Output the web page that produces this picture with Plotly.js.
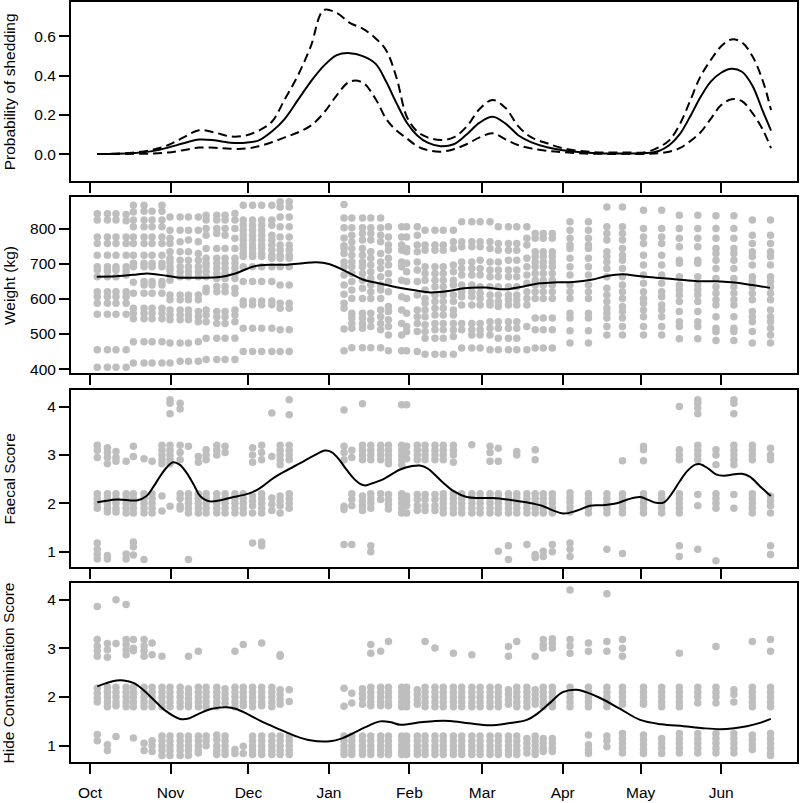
<!DOCTYPE html>
<html>
<head>
<meta charset="utf-8">
<script src="https://cdn.plot.ly/plotly-3.0.1.min.js"></script>
<style>
  body { margin: 0; background: #fff; }
  #chart { width: 800px; height: 803px; }
</style>
</head>
<body>
<div id="chart"></div>
<script>
// x values are days since 1 October
const monthDay = [0, 31, 61, 92, 123, 151, 182, 212, 243];
const monthLabel = ["Oct", "Nov", "Dec", "Jan", "Feb", "Mar", "Apr", "May", "Jun"];

// probability of shedding, fitted curve with confidence band
const shedDay = [2.7, 10, 17, 24, 30, 36, 42, 48, 54, 60, 65, 70, 75, 80, 85, 90, 95, 100, 105, 110, 114, 118, 122, 126, 130, 135, 140, 145, 150, 155, 160, 165, 170, 176, 182, 190, 198, 206, 214, 219, 223, 227, 231, 235, 239, 243, 247, 251, 255, 259, 262.2];
const shedMean = [0, 0.001, 0.005, 0.015, 0.033, 0.055, 0.074, 0.07, 0.058, 0.058, 0.07, 0.115, 0.18, 0.275, 0.37, 0.45, 0.505, 0.515, 0.5, 0.46, 0.37, 0.26, 0.16, 0.095, 0.058, 0.04, 0.05, 0.1, 0.16, 0.19, 0.155, 0.095, 0.06, 0.035, 0.02, 0.008, 0.003, 0.003, 0.005, 0.016, 0.045, 0.1, 0.19, 0.29, 0.37, 0.415, 0.435, 0.42, 0.35, 0.22, 0.12];
const shedUpper = [0, 0.002, 0.008, 0.022, 0.045, 0.085, 0.122, 0.11, 0.09, 0.095, 0.12, 0.165, 0.28, 0.4, 0.55, 0.735, 0.72, 0.67, 0.64, 0.59, 0.53, 0.39, 0.19, 0.115, 0.085, 0.072, 0.085, 0.14, 0.23, 0.276, 0.235, 0.14, 0.085, 0.055, 0.03, 0.014, 0.008, 0.008, 0.01, 0.035, 0.07, 0.15, 0.27, 0.395, 0.48, 0.55, 0.585, 0.57, 0.5, 0.375, 0.225];
const shedLower = [0, 0, 0.001, 0.003, 0.008, 0.02, 0.033, 0.032, 0.027, 0.028, 0.04, 0.06, 0.085, 0.11, 0.145, 0.21, 0.3, 0.37, 0.365, 0.28, 0.18, 0.12, 0.08, 0.04, 0.02, 0.012, 0.025, 0.05, 0.085, 0.106, 0.075, 0.045, 0.028, 0.017, 0.01, 0.003, 0.001, 0.001, 0.001, 0.004, 0.012, 0.03, 0.065, 0.11, 0.18, 0.25, 0.28, 0.27, 0.21, 0.125, 0.03];

// sampling days (one column of points per day)
const sampleDay = [2.8, 6.7, 10.0, 13.9, 16.7, 20.8, 23.9, 27.7, 30.8, 34.7, 37.9, 41.7, 44.7, 48.8, 52.0, 55.8, 59.0, 62.6, 66.1, 70.0, 73.2, 76.7,
  97.8, 100.8, 104.9, 108.1, 111.9, 114.9, 120.0, 121.9, 126.0, 129.0, 132.8, 136.0, 139.9, 143.1, 147.0, 150.2, 154.0, 157.2, 161.1, 164.3, 168.2, 171.4, 174.5, 178.0,
  184.8, 191.9, 199.0, 205.0, 213.1, 220.1, 226.9, 234.0, 241.0, 247.9, 255.0, 262.0];

const weightObs = [
  [842, 824, 776, 757, 724, 691, 682, 663, 620, 606, 587, 556, 455, 405],
  [842, 824, 776, 757, 724, 691, 679, 663, 620, 606, 587, 556, 455, 405],
  [842, 824, 776, 757, 724, 691, 682, 663, 620, 606, 587, 556, 455, 405],
  [840, 822, 776, 757, 724, 691, 679, 668, 620, 606, 587, 556, 455, 405],
  [866, 847, 824, 805, 776, 757, 724, 701, 691, 647, 616, 573, 559, 543, 478, 417],
  [866, 849, 824, 805, 776, 757, 724, 701, 691, 649, 639, 616, 573, 559, 543, 478, 417],
  [849, 824, 805, 776, 757, 724, 701, 691, 649, 639, 616, 573, 559, 543, 478, 417],
  [866, 849, 824, 805, 776, 757, 724, 701, 691, 649, 639, 616, 573, 559, 543, 478, 417],
  [833, 795, 772, 757, 734, 715, 705, 691, 682, 668, 653, 611, 597, 568, 554, 540, 474, 417],
  [833, 795, 762, 734, 710, 691, 677, 663, 611, 597, 568, 554, 540, 474, 422],
  [833, 795, 767, 734, 710, 691, 677, 663, 611, 597, 568, 554, 540, 474, 422],
  [833, 795, 762, 729, 710, 691, 677, 663, 611, 597, 564, 549, 535, 478, 422],
  [838, 824, 800, 781, 743, 715, 701, 691, 677, 663, 630, 620, 568, 554, 535, 488, 427],
  [838, 824, 800, 786, 743, 715, 701, 687, 672, 658, 635, 620, 564, 549, 530, 488, 427],
  [838, 824, 800, 781, 743, 715, 701, 687, 672, 658, 635, 620, 564, 549, 530, 488, 427],
  [843, 824, 800, 772, 743, 715, 701, 687, 672, 658, 630, 616, 568, 554, 535, 488, 427],
  [866, 824, 809, 795, 781, 767, 753, 743, 729, 720, 691, 649, 594, 583, 516, 450],
  [866, 824, 809, 795, 781, 767, 753, 743, 729, 720, 691, 649, 594, 583, 516, 450],
  [866, 824, 809, 795, 781, 767, 753, 743, 729, 720, 691, 649, 594, 583, 516, 450],
  [866, 824, 809, 781, 767, 753, 739, 724, 715, 691, 649, 594, 583, 516, 450],
  [876, 861, 833, 805, 776, 753, 739, 724, 715, 691, 639, 587, 573, 512, 450],
  [876, 861, 833, 805, 776, 753, 739, 724, 715, 691, 639, 587, 573, 512, 450],
  [868, 830, 802, 773, 751, 743, 729, 705, 691, 668, 639, 613, 587, 573, 514, 452],
  [830, 802, 781, 762, 743, 724, 705, 691, 672, 649, 625, 601, 559, 545, 530, 516, 461],
  [830, 802, 786, 767, 743, 724, 705, 691, 672, 653, 630, 601, 559, 545, 530, 516, 461],
  [830, 802, 786, 767, 734, 715, 696, 677, 658, 639, 620, 601, 559, 540, 521, 461],
  [830, 802, 781, 762, 729, 705, 686, 663, 639, 625, 601, 568, 549, 530, 512, 461],
  [805, 776, 753, 738, 715, 696, 672, 649, 620, 578, 564, 540, 521, 497, 452],
  [805, 776, 753, 738, 705, 691, 653, 606, 568, 530, 497, 452],
  [805, 776, 743, 734, 701, 677, 649, 601, 559, 521, 507, 452],
  [805, 781, 753, 734, 705, 682, 649, 611, 568, 549, 530, 507, 450],
  [795, 753, 738, 691, 672, 653, 625, 601, 587, 568, 549, 526, 507, 488, 442],
  [795, 753, 738, 691, 672, 653, 634, 611, 592, 573, 554, 530, 512, 488, 442],
  [795, 753, 738, 691, 672, 653, 634, 611, 592, 573, 554, 530, 512, 488, 442],
  [795, 762, 743, 696, 677, 653, 639, 611, 592, 568, 554, 530, 512, 493, 442],
  [819, 762, 748, 705, 686, 668, 639, 620, 606, 582, 530, 512, 460],
  [819, 762, 748, 705, 686, 668, 639, 620, 606, 582, 530, 512, 497, 460],
  [819, 762, 748, 710, 686, 668, 634, 616, 601, 582, 530, 512, 497, 460],
  [819, 762, 743, 705, 682, 663, 634, 611, 592, 582, 535, 516, 497, 455],
  [805, 757, 738, 705, 682, 663, 634, 611, 592, 578, 535, 516, 488, 455],
  [805, 757, 738, 710, 682, 663, 634, 611, 597, 582, 535, 516, 488, 455],
  [805, 757, 738, 710, 682, 663, 634, 611, 597, 582, 535, 516, 488, 455],
  [805, 772, 753, 715, 691, 668, 644, 620, 601, 582, 521, 455],
  [786, 772, 734, 720, 705, 691, 672, 653, 639, 620, 601, 545, 512, 460],
  [786, 772, 734, 720, 705, 691, 672, 653, 639, 620, 601, 545, 512, 460],
  [786, 772, 734, 720, 705, 691, 672, 653, 639, 620, 601, 545, 512, 460],
  [819, 795, 772, 753, 743, 715, 691, 668, 639, 620, 601, 559, 545, 509, 474],
  [819, 795, 772, 753, 743, 715, 691, 668, 639, 620, 601, 559, 545, 509, 474],
  [861, 805, 786, 767, 734, 720, 705, 686, 663, 630, 611, 592, 573, 559, 545, 521, 497],
  [861, 805, 786, 767, 743, 724, 710, 686, 663, 639, 620, 601, 578, 564, 545, 521, 497],
  [852, 800, 776, 757, 724, 696, 668, 644, 620, 601, 587, 568, 549, 521, 497],
  [852, 800, 776, 757, 724, 696, 668, 644, 620, 606, 582, 568, 549, 521, 497],
  [838, 800, 772, 748, 710, 701, 663, 639, 625, 611, 592, 564, 535, 521, 486],
  [838, 800, 772, 748, 710, 701, 663, 639, 625, 611, 592, 564, 535, 521, 486],
  [836, 800, 772, 743, 729, 710, 686, 658, 634, 616, 597, 582, 549, 516, 507, 481],
  [836, 800, 772, 743, 729, 710, 686, 658, 634, 616, 597, 582, 549, 516, 507, 481],
  [824, 781, 757, 734, 720, 696, 663, 649, 634, 616, 597, 564, 549, 535, 507, 474],
  [824, 781, 757, 734, 720, 696, 663, 649, 634, 616, 597, 568, 549, 535, 516, 497, 474]
];

const faecalObs = [
  [3.2, 3.1, 2.95, 2.2, 2.1, 2.0, 1.9, 1.18, 1.05, 0.95, 0.85],
  [3.15, 3.05, 2.95, 2.82, 2.2, 2.1, 2.0, 1.9, 1.82, 0.92, 0.85],
  [3.07, 2.95, 2.87, 2.2, 2.1, 2.0, 1.9, 1.82],
  [2.87, 2.2, 2.1, 2.0, 1.9, 1.8, 0.95, 0.85],
  [3.18, 2.97, 2.2, 2.1, 2.0, 1.9, 1.8, 1.2, 1.1, 0.93],
  [2.92, 2.2, 2.1, 2.0, 1.9, 1.8, 0.84],
  [2.87, 2.2, 2.1, 2.0, 1.9, 1.8],
  [3.2, 3.1, 3.0, 2.9, 2.82, 2.15, 1.84],
  [4.14, 4.07, 3.85, 3.2, 3.1, 3.0, 2.9, 2.82, 1.94],
  [4.07, 3.95, 3.2, 3.05, 2.9, 2.2, 2.1, 1.95, 1.88],
  [3.18, 2.2, 2.1, 2.0, 1.9, 1.8, 0.84],
  [2.97, 2.85, 2.2, 2.1, 2.0, 1.9, 1.8],
  [3.11, 3.0, 2.9, 2.2, 2.1, 2.0, 1.9, 1.8],
  [3.2, 3.1, 3.0, 2.2, 2.1, 2.0, 1.9, 1.8],
  [3.18, 3.05, 2.2, 2.1, 2.0, 1.9, 1.8],
  [2.2, 2.1, 2.0, 1.9, 1.8],
  [2.2, 2.1, 2.0, 1.9, 1.8],
  [3.15, 3.0, 2.85, 2.15, 2.05, 1.95, 1.8, 1.18],
  [3.2, 3.05, 2.9, 2.2, 2.1, 2.0, 1.9, 1.8, 1.2, 1.12],
  [3.87, 2.97, 2.11, 1.98, 1.85],
  [3.2, 3.1, 3.0, 2.9, 2.8, 2.15, 2.05, 1.95, 1.8],
  [4.14, 3.83, 3.2, 3.1, 3.0, 2.9, 2.2, 2.1, 2.0, 1.9],
  [3.93, 3.18, 3.05, 2.9, 1.94, 1.87, 1.15],
  [3.1, 2.95, 2.2, 2.08, 1.95, 1.15],
  [4.06, 3.2, 3.1, 3.0, 2.9, 2.15, 2.05, 1.95, 1.85],
  [3.2, 3.1, 3.0, 2.9, 2.2, 2.1, 2.0, 1.9, 1.12, 1.0],
  [3.2, 3.1, 3.0, 2.9, 2.2, 2.08],
  [3.2, 3.1, 3.0, 2.9, 2.82, 2.18, 2.08, 1.98, 1.88],
  [4.04, 3.2, 3.1, 3.0, 2.9, 2.8, 2.2, 2.1, 2.0, 1.9, 1.8],
  [4.04, 3.18, 3.05, 2.92, 2.15, 2.05, 1.95, 1.8],
  [3.2, 3.1, 3.0, 2.9, 2.18, 2.08, 1.95, 1.85],
  [3.2, 3.1, 3.0, 2.9, 2.18, 2.08, 1.95, 1.85],
  [3.2, 3.1, 3.0, 2.9, 2.18, 2.08, 1.95, 1.85],
  [3.2, 3.1, 3.0, 2.9, 2.2, 2.1, 2.0, 1.9, 1.8],
  [3.2, 3.1, 3.0, 2.85, 2.2, 2.1, 2.0, 1.9, 1.8],
  [2.2, 2.1, 2.0, 1.9, 1.8],
  [3.21, 2.2, 2.1, 2.0, 1.9, 1.8],
  [2.2, 2.1, 2.0, 1.9, 1.8],
  [3.18, 3.05, 2.87, 2.2, 2.1, 2.0, 1.9, 1.8],
  [3.14, 2.87, 2.2, 2.1, 2.0, 1.9, 1.8, 1.01],
  [2.2, 2.1, 2.0, 1.9, 1.8, 1.12, 0.84],
  [3.07, 3.0, 2.2, 2.1, 2.0, 1.9, 1.8],
  [2.2, 2.1, 2.0, 1.9, 1.8, 1.15],
  [3.11, 2.9, 2.2, 2.1, 2.0, 1.9, 1.8, 0.94, 0.88],
  [2.2, 2.1, 2.0, 1.9, 1.8, 1.01, 0.9],
  [2.2, 2.1, 2.0, 1.9, 1.8, 1.15, 1.0],
  [2.22, 2.12, 2.02, 1.92, 1.82, 1.18, 1.05, 0.9],
  [2.2, 2.1, 2.0, 1.9, 1.8],
  [2.2, 2.1, 2.0, 1.9, 1.8, 1.05],
  [2.88, 2.2, 2.1, 2.0, 1.9, 1.8, 0.96],
  [3.18, 3.11, 2.88, 2.2, 2.1, 2.0, 1.9, 1.8],
  [2.2, 2.1, 2.0, 1.9, 1.8],
  [4.0, 3.11, 3.0, 2.9, 2.2, 2.1, 2.0, 1.9, 1.8, 1.12, 0.9],
  [4.14, 4.07, 3.97, 3.85, 3.2, 3.1, 3.0, 2.9, 2.18, 1.95, 1.05],
  [3.11, 3.0, 2.8, 2.2, 2.1, 2.0, 1.9, 0.81],
  [4.14, 4.07, 3.85, 3.2, 3.1, 3.0, 2.9, 2.8, 2.18, 1.9],
  [3.2, 3.1, 3.0, 2.9, 2.2, 2.1, 2.0, 1.9, 1.8],
  [3.14, 3.0, 2.9, 2.15, 2.05, 1.95, 1.8, 1.12, 0.94]
];

const hideObs = [
  [3.86, 3.18, 3.05, 2.95, 2.84, 2.18, 2.08, 1.98, 1.9, 1.23, 1.1],
  [3.1, 2.97, 2.82, 2.2, 2.1, 2.0, 1.9, 1.8, 1.02, 0.9],
  [4.0, 3.1, 2.2, 2.1, 2.0, 1.9, 1.82, 1.19],
  [3.9, 3.18, 3.08, 2.97, 2.87, 2.2, 2.1, 2.0, 1.9, 1.8],
  [3.18, 3.0, 2.95, 2.2, 2.1, 2.0, 1.9, 1.8, 1.16],
  [3.18, 3.05, 2.95, 2.84, 2.2, 2.1, 2.0, 1.9, 1.8, 1.05, 0.9],
  [3.11, 2.87, 2.2, 2.1, 2.0, 1.9, 1.8, 1.1, 1.0, 0.88],
  [2.84, 2.2, 2.1, 2.0, 1.9, 1.8, 1.2, 1.1, 1.0, 0.9, 0.8],
  [2.2, 2.1, 2.0, 1.9, 1.8, 1.2, 1.1, 1.0, 0.9, 0.8],
  [2.2, 2.1, 2.0, 1.9, 1.8, 1.2, 1.1, 1.0, 0.9, 0.8],
  [2.84, 2.17, 2.07, 1.97, 1.87, 1.8, 1.2, 1.1, 1.0, 0.9, 0.8],
  [2.94, 2.2, 2.1, 2.0, 1.9, 1.8, 1.2, 1.1, 1.0, 0.9, 0.85],
  [2.2, 2.1, 2.0, 1.9, 1.8, 1.2, 1.1, 1.0],
  [2.2, 2.1, 2.0, 1.9, 1.8, 1.22, 1.12, 1.0, 0.9, 0.82],
  [2.17, 2.07, 1.97, 1.87, 1.2, 1.1, 1.0, 0.9, 0.82],
  [2.94, 2.2, 2.1, 2.0, 1.9, 1.8, 0.92, 0.84],
  [3.08, 2.2, 2.1, 2.0, 1.9, 1.82, 0.99, 0.84],
  [2.2, 2.1, 2.0, 1.9, 1.8, 1.2, 1.1, 1.0, 0.9, 0.82],
  [3.11, 2.2, 2.1, 2.0, 1.9, 1.82, 1.2, 1.1, 1.0, 0.9, 0.82],
  [2.2, 2.1, 2.0, 1.9, 1.8, 1.2, 1.1, 1.0, 0.9, 0.82],
  [2.87, 2.84, 2.15, 2.05, 1.95, 1.85, 1.2, 1.1, 1.0, 0.9, 0.82],
  [2.15, 1.91, 1.2, 1.1, 1.0, 0.9, 0.82],
  [2.18, 1.81, 1.2, 1.1, 1.0, 0.9, 0.82],
  [2.08, 1.88, 1.2, 1.1, 1.0, 0.9, 0.82],
  [2.17, 2.07, 1.97, 1.85, 1.2, 1.1, 1.0, 0.9, 0.82],
  [3.08, 2.9, 2.2, 2.1, 2.0, 1.9, 1.82, 1.2, 1.1, 1.0, 0.9, 0.82],
  [2.94, 2.2, 2.1, 2.0, 1.9, 1.82, 1.2, 1.1, 1.0, 0.9, 0.82],
  [3.14, 2.2, 2.1, 2.0, 1.9, 1.82, 1.2, 1.1, 1.0, 0.9, 0.82],
  [2.2, 2.1, 2.0, 1.9, 1.8, 1.2, 1.1, 1.0, 0.9, 0.82],
  [2.2, 2.1, 2.0, 1.9, 1.8, 1.2, 1.1, 1.0, 0.9, 0.82],
  [2.15, 2.05, 1.95, 1.85, 1.2, 1.1, 1.0, 0.9, 0.82],
  [3.14, 2.2, 2.1, 2.0, 1.9, 1.8, 1.2, 1.1, 1.0, 0.9, 0.82],
  [3.01, 2.2, 2.1, 2.0, 1.9, 1.8, 1.2, 1.1, 1.0, 0.9, 0.82],
  [2.2, 2.1, 2.0, 1.9, 1.8, 1.2, 1.1, 1.0, 0.9, 0.82],
  [2.9, 2.2, 2.1, 2.0, 1.9, 1.8, 1.2, 1.1, 1.0, 0.9, 0.82],
  [2.2, 2.1, 2.0, 1.9, 1.8, 1.2, 1.1, 1.0, 0.9, 0.82],
  [2.87, 2.2, 2.1, 2.0, 1.9, 1.8, 1.2, 1.1, 1.0, 0.9, 0.82],
  [2.2, 2.1, 2.0, 1.9, 1.8, 1.2, 1.1, 1.0, 0.9, 0.82],
  [2.2, 2.1, 2.0, 1.9, 1.8, 1.2, 1.1, 1.0, 0.9, 0.82],
  [2.2, 2.1, 2.0, 1.9, 1.8, 1.2, 1.1, 1.0, 0.9, 0.82],
  [3.04, 2.84, 2.15, 2.05, 1.95, 1.85, 1.2, 1.1, 1.0, 0.9, 0.82],
  [3.14, 2.2, 2.1, 2.0, 1.9, 1.8, 1.2, 1.1, 1.0, 0.9, 0.82],
  [2.2, 2.1, 2.0, 1.9, 1.8, 1.15, 1.05, 0.95, 0.85],
  [2.84, 2.15, 2.05, 1.95, 1.85, 1.2, 1.1, 1.0, 0.9, 0.82],
  [3.18, 3.08, 3.01, 2.2, 2.1, 2.0, 1.9, 1.8, 1.15, 1.05, 0.95, 0.88],
  [3.2, 3.1, 3.01, 2.2, 2.1, 2.0, 1.9, 1.8, 1.15, 1.05, 0.95, 0.88],
  [4.2, 3.18, 3.05, 2.9, 2.2, 2.1, 2.0, 1.9, 1.8],
  [3.11, 2.94, 2.2, 2.1, 2.0, 1.9, 1.8, 1.22, 1.02, 0.92, 0.84],
  [4.12, 3.14, 2.94, 2.2, 2.1, 2.0, 1.9, 1.8, 1.2, 1.1, 0.98],
  [3.18, 3.0, 2.84, 2.2, 2.1, 2.0, 1.9, 1.85, 1.25, 1.15, 1.05, 0.95, 0.85],
  [2.2, 2.1, 2.0, 1.9, 1.85, 1.22, 1.12, 1.02, 0.92, 0.84],
  [2.2, 2.1, 2.0, 1.9, 1.8, 1.15, 1.05, 0.95, 0.84],
  [2.9, 2.2, 2.1, 2.0, 1.9, 1.8, 1.25, 1.15, 1.05, 0.95, 0.85],
  [2.2, 2.1, 2.0, 1.88, 1.25, 1.15, 1.05, 0.95, 0.85],
  [3.04, 2.2, 2.1, 2.0, 1.88, 1.25, 1.15, 1.05, 0.95, 0.85],
  [2.15, 2.05, 1.9, 1.25, 1.15, 1.05, 0.95, 0.85],
  [3.14, 2.2, 2.1, 2.0, 1.9, 1.8, 1.22, 1.12, 1.02, 0.92],
  [3.18, 2.94, 2.2, 2.1, 2.0, 1.9, 1.8, 1.25, 1.15, 1.05, 0.95, 0.85, 0.8]
];

// smoothed trends
const weightLineDay = [2.6, 10, 18, 22, 30, 35, 42, 50, 56, 63, 70, 76, 82, 87, 92, 98, 105, 112, 118, 125, 131, 138, 144, 152, 160, 167, 173, 180, 186, 193, 199, 205, 212, 218, 226, 234, 241, 248, 255, 261.8];
const weightLine = [663, 664, 669, 672, 665, 660, 660, 662, 672, 692, 697, 697, 701, 704, 699, 680, 655, 643, 633, 624, 618, 622, 630, 632, 627, 635, 644, 647, 648, 654, 665, 670, 664, 660, 655, 650, 650, 646, 639, 631];

const faecalLineDay = [2.8, 10.3, 18, 21.8, 24.5, 27, 29.5, 32, 34.5, 37.2, 40, 42.4, 46.2, 55.2, 61, 65, 70.6, 75, 80.9, 86, 90.5, 93, 96, 98, 101.4, 104, 106, 109, 113, 119.4, 124, 127, 130, 133, 136.1, 140, 145, 150, 155, 162, 168, 174, 178, 182.3, 187, 192.5, 197, 202.8, 207, 211.8, 215, 218, 221, 224, 227, 230, 233, 235, 238, 241, 244, 248, 251, 254, 258, 262.1];
const faecalLine = [2.02, 2.08, 2.06, 2.15, 2.35, 2.56, 2.74, 2.85, 2.8, 2.63, 2.38, 2.15, 2.04, 2.13, 2.2, 2.3, 2.52, 2.66, 2.83, 2.98, 3.09, 3.06, 2.9, 2.75, 2.52, 2.4, 2.37, 2.42, 2.5, 2.7, 2.77, 2.78, 2.72, 2.58, 2.42, 2.25, 2.13, 2.11, 2.11, 2.07, 2.02, 1.95, 1.86, 1.79, 1.84, 1.95, 1.96, 2.0, 2.08, 2.13, 2.07, 2.01, 2.02, 2.2, 2.45, 2.67, 2.8, 2.81, 2.72, 2.6, 2.57, 2.6, 2.61, 2.55, 2.35, 2.15];

const hideLineDay = [2.8, 6, 10.3, 13, 16.7, 20, 24.4, 29, 34.7, 38, 42.4, 47, 52.6, 56, 60.3, 66, 73.2, 79, 84.7, 92.4, 97, 101.4, 106, 111.7, 116, 119.4, 127, 133, 138.6, 146, 154, 161, 168.2, 172, 177.1, 182, 187.4, 191, 196.4, 204, 211.8, 220, 228.5, 236, 242.6, 248, 252.9, 258, 262.1];
const hideLine = [2.22, 2.28, 2.34, 2.34, 2.29, 2.17, 1.95, 1.72, 1.55, 1.56, 1.67, 1.76, 1.79, 1.76, 1.66, 1.5, 1.33, 1.2, 1.11, 1.09, 1.15, 1.26, 1.38, 1.5, 1.48, 1.43, 1.48, 1.51, 1.51, 1.46, 1.42, 1.46, 1.53, 1.65, 1.88, 2.1, 2.15, 2.1, 1.98, 1.76, 1.53, 1.44, 1.4, 1.36, 1.34, 1.36, 1.4, 1.47, 1.55];

const FONT = "Liberation Sans, Arial, Helvetica, sans-serif";
const FSIZE = 15.5;
const GREY = "#BEBEBE";

function columns(days, obs) {
  const x = [], y = [];
  obs.forEach((vals, i) => {
    vals.forEach(v => { x.push(days[i]); y.push(v); });
  });
  return { x, y };
}

function pointTrace(days, obs, xa, ya) {
  const c = columns(days, obs);
  return {
    x: c.x, y: c.y, xaxis: xa, yaxis: ya,
    type: "scatter", mode: "markers",
    marker: { color: GREY, size: 7.5 },
    hoverinfo: "skip"
  };
}

function lineTrace(x, y, xa, ya, dash) {
  return {
    x: x, y: y, xaxis: xa, yaxis: ya,
    type: "scatter", mode: "lines",
    line: { color: "black", width: 2, shape: "spline", smoothing: 1, dash: dash || "solid" },
    hoverinfo: "skip"
  };
}

const data = [
  lineTrace(shedDay, shedUpper, "x", "y", "9px,5px"),
  lineTrace(shedDay, shedLower, "x", "y", "9px,5px"),
  lineTrace(shedDay, shedMean, "x", "y"),
  pointTrace(sampleDay, weightObs, "x2", "y2"),
  lineTrace(weightLineDay, weightLine, "x2", "y2"),
  pointTrace(sampleDay, faecalObs, "x3", "y3"),
  lineTrace(faecalLineDay, faecalLine, "x3", "y3"),
  pointTrace(sampleDay, hideObs, "x4", "y4"),
  lineTrace(hideLineDay, hideLine, "x4", "y4")
];

function xAxis(anchor, labels) {
  return {
    anchor: anchor, domain: [0, 1],
    range: [-7.32, 272.2],
    tickmode: "array", tickvals: monthDay, ticktext: monthLabel,
    ticks: "outside", ticklen: 10, tickwidth: 2, tickcolor: "black",
    showticklabels: labels, ticklabelstandoff: 5,
    showline: true, linewidth: 2, linecolor: "black", mirror: true,
    showgrid: false, zeroline: false,
    tickfont: { family: FONT, size: FSIZE, color: "black" }
  };
}

function yAxis(anchor, domain, range, vals, text) {
  return {
    anchor: anchor, domain: domain, range: range,
    tickmode: "array", tickvals: vals, ticktext: text,
    ticks: "outside", ticklen: 10, tickwidth: 2, tickcolor: "black",
    showline: true, linewidth: 2, linecolor: "black", mirror: true,
    showgrid: false, zeroline: false,
    tickfont: { family: FONT, size: FSIZE, color: "black" }
  };
}

const doms = [[0.7651, 1], [0.5118, 0.7434], [0.2566, 0.4895], [0, 0.2355]];
const titles = ["Probability of shedding", "Weight (kg)", "Faecal Score", "Hide Contamination Score"];

const layout = {
  width: 800, height: 803,
  margin: { l: 71, r: 3, t: 2, b: 41 },
  paper_bgcolor: "white", plot_bgcolor: "white",
  showlegend: false,
  font: { family: FONT, size: FSIZE, color: "black" },
  xaxis: xAxis("y", false),
  xaxis2: xAxis("y2", false),
  xaxis3: xAxis("y3", false),
  xaxis4: xAxis("y4", true),
  yaxis: yAxis("x", doms[0], [-0.135, 0.776], [0, 0.2, 0.4, 0.6], ["0.0", "0.2", "0.4", "0.6"]),
  yaxis2: yAxis("x2", doms[1], [388.7, 889.6], [400, 500, 600, 700, 800], ["400", "500", "600", "700", "800"]),
  yaxis3: yAxis("x3", doms[2], [0.683, 4.344], [1, 2, 3, 4], ["1", "2", "3", "4"]),
  yaxis4: yAxis("x4", doms[3], [0.665, 4.343], [1, 2, 3, 4], ["1", "2", "3", "4"]),
  annotations: titles.map((t, i) => ({
    text: t, xref: "paper", yref: "paper",
    x: -0.0854, y: (doms[i][0] + doms[i][1]) / 2,
    xanchor: "center", yanchor: "middle",
    textangle: -90, showarrow: false,
    font: { family: FONT, size: FSIZE, color: "black" }
  }))
};

Plotly.newPlot("chart", data, layout, { displayModeBar: false, staticPlot: true });
</script>
</body>
</html>
